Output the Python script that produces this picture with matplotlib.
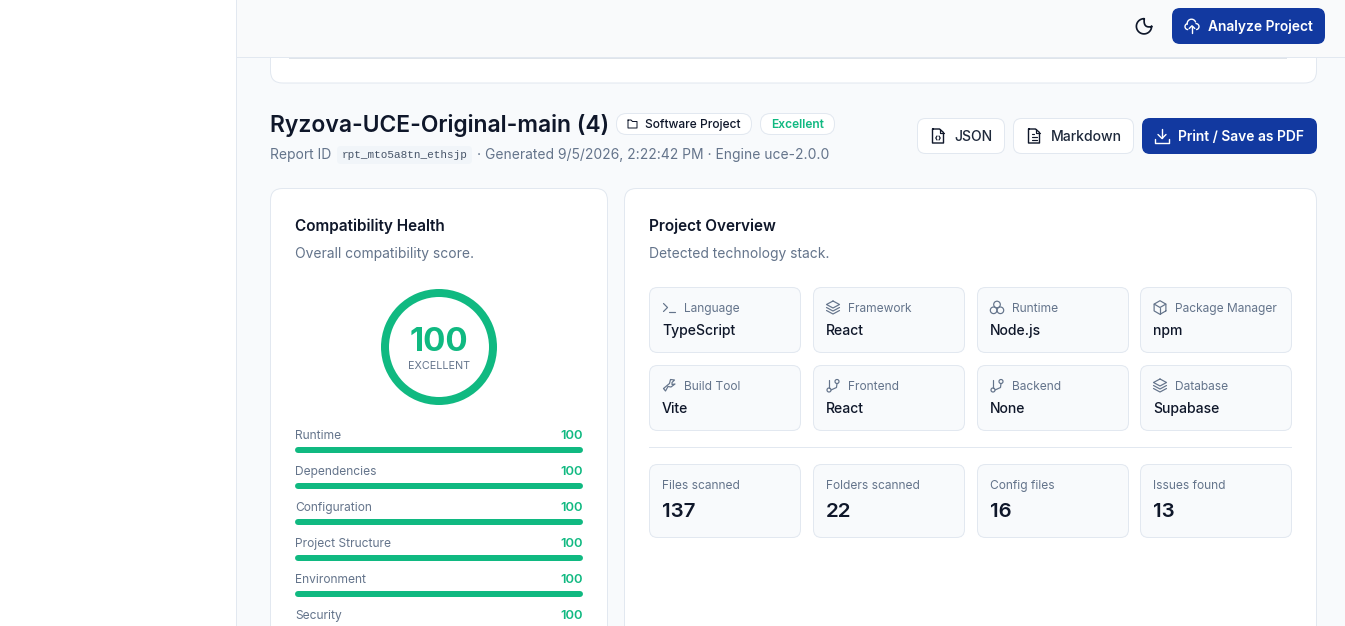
import matplotlib
matplotlib.use("Agg")
import numpy as np
import matplotlib.pyplot as plt
from matplotlib.patches import FancyBboxPatch, Rectangle, Wedge, Circle

plt.rcParams['font.family'] = ['Inter', 'DejaVu Sans']

# ---- data ----
score_total = 100
score_label = "EXCELLENT"
score_categories = ["Runtime", "Dependencies", "Configuration", "Project Structure", "Environment", "Security"]
score_values = [100, 100, 100, 100, 100, 100]
stack_labels = ["Language", "Framework", "Runtime", "Package Manager", "Build Tool", "Frontend", "Backend", "Database"]
stack_values = ["TypeScript", "React", "Node.js", "npm", "Vite", "React", "None", "Supabase"]
stat_labels = ["Files scanned", "Folders scanned", "Config files", "Issues found"]
stat_values = [137, 22, 16, 13]

W, H = 1345, 626
BG = "#f8fafc"; HDR = "#f9fafb"; BORDER = "#e2e8f0"; INK = "#0f172a"; MUTED = "#64748b"
GREEN = "#10b981"; NAVY = "#1239a0"; TILE = "#f8fafc"; ICON = "#64748b"

fig = plt.figure(figsize=(W / 100, H / 100), dpi=100, facecolor=BG)
ax = fig.add_axes([0, 0, 1, 1])
ax.set_xlim(0, W); ax.set_ylim(H, 0); ax.axis("off")
PX = 0.72

def rbox(x0, y0, x1, y1, r, fc, ec=None, lw=1.0, z=2):
    p = FancyBboxPatch((x0 + r, y0 + r), x1 - x0 - 2 * r, y1 - y0 - 2 * r,
                       boxstyle=f"round,pad={r},rounding_size={r}",
                       fc=fc, ec=ec if ec else "none", lw=lw * PX, zorder=z)
    ax.add_patch(p)
    return p

def txt(x, y, s, size, color=INK, weight=400, ha="left", family=None, z=7, ref=None):
    base = y + 0.36 * (ref if ref else size) - 0.5
    return ax.text(x, base, s, fontsize=size * PX, color=color, fontweight=weight, ha=ha, va="baseline",
                   family=family if family else ['Inter', 'DejaVu Sans'], zorder=z)

def ln(xs, ys, c=ICON, lw=1.2, z=6):
    ax.plot(xs, ys, color=c, lw=lw * PX, solid_capstyle="round", solid_joinstyle="round", zorder=z)

def arc(cx, cy, r, a0, a1):
    t = np.radians(np.linspace(a0, a1, 24))
    return cx + r * np.cos(t), cy + r * np.sin(t)

def px_rect(x, y, w, h, c, z):
    ax.add_patch(Rectangle((x, y), w, h, fc=c, ec="none", lw=0, zorder=z))

# ---- icons (centred on cx, cy) ----
def ic_doc(cx, cy, c=INK, kind="lines"):
    ln([cx - 5, cx + 1.5, cx + 5.5, cx + 5.5, cx - 5.5, cx - 5.5, cx - 5],
       [cy - 7, cy - 7, cy - 3.5, cy + 7, cy + 7, cy - 7, cy - 7], c, 1.4)
    ln([cx + 1.5, cx + 1.5, cx + 5.5], [cy - 7, cy - 3.5, cy - 3.5], c, 1.2)
    if kind == "lines":
        ln([cx - 2.5, cx + 2.5], [cy + 0.5, cy + 0.5], c, 1.2)
        ln([cx - 2.5, cx + 2.5], [cy + 3.5, cy + 3.5], c, 1.2)
        ln([cx - 2.5, cx - 0.5], [cy - 2.5, cy - 2.5], c, 1.2)
    else:
        ln([cx - 1, cx - 2.2, cx - 1], [cy, cy + 2, cy + 4], c, 1.2)
        ln([cx + 1, cx + 2.2, cx + 1], [cy, cy + 2, cy + 4], c, 1.2)

def ic_term(cx, cy):
    ln([cx - 5.5, cx - 1.5, cx - 5.5], [cy - 4, cy, cy + 4]); ln([cx, cx + 5.5], [cy + 4.5, cy + 4.5])

def ic_layers(cx, cy):
    ln([cx, cx + 6.5, cx, cx - 6.5, cx], [cy - 6.5, cy - 3, cy + 0.5, cy - 3, cy - 6.5])
    ln([cx - 6.5, cx, cx + 6.5], [cy + 0, cy + 3.5, cy + 0]); ln([cx - 6.5, cx, cx + 6.5], [cy + 3, cy + 6.5, cy + 3])

def ic_atoms(cx, cy):
    for dx, dy in [(0, -3), (-3.4, 2.8), (3.4, 2.8)]:
        ax.add_patch(Circle((cx + dx, cy + dy), 3.3, fc="none", ec=ICON, lw=1.2 * PX, zorder=6))

def ic_box(cx, cy):
    t = np.linspace(0, 2 * np.pi, 7) + np.pi / 6
    ln(cx + 6.8 * np.cos(t), cy + 6.8 * np.sin(t))
    ln([cx - 5.8, cx, cx + 5.8], [cy - 3.4, cy, cy - 3.4]); ln([cx, cx], [cy, cy + 6.8])

def ic_wrench(cx, cy):
    ln([cx - 5.5, cx + 0.5, cx + 1.5, cx + 5.5, cx + 3, cx + 3, cx + 6, cx + 2, cx - 1, cx - 3.5, cx - 5.5],
       [cy + 3, cy - 2, cy - 6, cy - 5.5, cy - 3, cy - 1, cy - 1.5, cy + 1.5, cy + 1, cy + 5.5, cy + 3])

def ic_branch(cx, cy):
    ln([cx - 4, cx - 4], [cy - 6, cy + 2.5])
    ax.add_patch(Circle((cx - 4, cy + 4.5), 2, fc="none", ec=ICON, lw=1.2 * PX, zorder=6))
    ax.add_patch(Circle((cx + 4, cy - 4), 2, fc="none", ec=ICON, lw=1.2 * PX, zorder=6))
    ln([cx + 4, cx + 3.5, cx - 2], [cy - 2, cy + 2, cy + 4.5])

ICONS = [ic_term, ic_layers, ic_atoms, ic_box, ic_wrench, ic_branch, ic_branch, ic_layers]

# ---- page chrome ----
px_rect(0, 0, 236, H, "white", 1)
px_rect(236, 0, 1, H, BORDER, 8)

# clipped upper card
rbox(270.5, 20, 1316.5, 83, 12, "white", BORDER, z=2)
px_rect(289, 58, 998, 1, "#dfe4ea", 3)
px_rect(237, 0, W - 237, 57, HDR, 4)
px_rect(237, 57, W - 237, 1, BORDER, 5)

# header controls: moon
s = np.linspace(0, 1, 20)
p0, c0, p2 = np.array([1151.6, 26.6]), np.array([1143, 28.5]), np.array([1144.3, 18.7])
bx = (1 - s) ** 2 * p0[0] + 2 * s * (1 - s) * c0[0] + s ** 2 * p2[0]
by = (1 - s) ** 2 * p0[1] + 2 * s * (1 - s) * c0[1] + s ** 2 * p2[1]
t_out = np.radians(np.linspace(268, -2, 50))
ox = 1144 + 7.6 * np.cos(t_out); oy = 26.3 + 7.6 * np.sin(t_out)
ln(np.r_[ox, bx, ox[0]], np.r_[oy, by, oy[0]], INK, 1.7)

def cloud(cx, cy):
    for a in [arc(cx - 0.5, cy - 2.5, 4.3, 170, 340), arc(cx - 4, cy + 0.6, 3, 95, 250), arc(cx + 4, cy + 0.6, 3, 270, 440)]:
        ln(a[0], a[1], "white", 1.4, 7)
    ln([cx, cx], [cy + 7, cy], "white", 1.4, 7); ln([cx - 2.8, cx, cx + 2.8], [cy + 2.5, cy - 0.2, cy + 2.5], "white", 1.4, 7)

rbox(1172, 8, 1325, 44, 8, NAVY, z=6)
cloud(1192, 26)
txt(1208, 26, "Analyze Project", 13.8, "white", 600, ref=14)

# title row
txt(270, 123.5, "Ryzova-UCE-Original-main (4)", 22.9, INK, 600, ref=24)
rbox(616.5, 113.5, 751.5, 134.5, 10, "white", BORDER, z=3)
ic_x, ic_y = 632.5, 124
ln([ic_x - 4.5, ic_x - 1.5, ic_x, ic_x + 4.5, ic_x + 4.5, ic_x - 4.5, ic_x - 4.5],
   [ic_y - 4, ic_y - 4, ic_y - 2.5, ic_y - 2.5, ic_y + 4, ic_y + 4, ic_y - 4], INK, 1.0)
txt(645, 124, "Software Project", 12, INK, 500)
rbox(760.5, 113.5, 834.5, 134.5, 10, "white", BORDER, z=3)
txt(771, 124, "Excellent", 12, GREEN, 600)

txt(270, 154, "Report ID", 13.85, MUTED, ref=14)
rbox(337, 146, 472, 164, 4, "#f1f5f9", z=3)
txt(341.5, 155, "rpt_mto5a8tn_ethsjp", 11, "#475569", family=["Liberation Mono", "DejaVu Sans Mono"])
txt(477, 154, "· Generated 9/5/2026, 2:22:42 PM · Engine uce-2.0.0", 13.85, MUTED, ref=14)

# action buttons
rbox(917.5, 118.5, 1004.5, 153.5, 8, "white", BORDER, z=3)
ic_doc(938, 136, INK, "code")
txt(954, 136, "JSON", 14, "#1e293b", 500)
rbox(1013.5, 118.5, 1133.5, 153.5, 8, "white", BORDER, z=3)
ic_doc(1034, 136, INK, "lines")
txt(1050.5, 136, "Markdown", 14, "#1e293b", 500)
rbox(1142, 118, 1317, 154, 8, NAVY, z=3)
dx, dy = 1162, 136
ln([dx, dx], [dy - 7, dy + 2], "white", 1.4); ln([dx - 4, dx, dx + 4], [dy - 1.5, dy + 2.5, dy - 1.5], "white", 1.4)
ln([dx - 7, dx - 7, dx + 7, dx + 7], [dy + 3, dy + 6.5, dy + 6.5, dy + 3], "white", 1.4)
txt(1178, 136, "Print / Save as PDF", 13.85, "white", 600, ref=14)

# ---- health card (runs off the bottom) ----
rbox(270.5, 188.5, 607.5, 680, 12, "white", BORDER, z=2)
txt(295, 225.5, "Compatibility Health", 15.3, INK, 600, ref=16)
txt(295, 253, "Overall compatibility score.", 13.85, MUTED, ref=14)
cx, cy, R = 439, 347, 58
ax.add_patch(Wedge((cx, cy), R, 90 - 360 * score_total / 100, 90, width=8, fc=GREEN, ec="none", zorder=4))
txt(cx, 341, str(score_total), 33, GREEN, 700, ha="center", ref=30)
txt(cx, 365.5, score_label, 10.8, MUTED, ha="center", ref=10)
for i, (name, val) in enumerate(zip(score_categories, score_values)):
    y = 435 + 36 * i
    txt(295, y, name, 12, MUTED)
    txt(583, y, str(val), 13, GREEN, 600, ha="right", ref=12)
    if y + 15 < H:
        ax.plot([298, 295 + 288 * val / 100 - 3], [y + 15, y + 15], color=GREEN, lw=6 * PX,
                solid_capstyle="round", zorder=4)

# ---- overview card ----
rbox(624.5, 188.5, 1316.5, 680, 12, "white", BORDER, z=2)
txt(649, 225.5, "Project Overview", 15.3, INK, 600, ref=16)
txt(649, 253, "Detected technology stack.", 13.85, MUTED, ref=14)
col_x = [649.5, 813.5, 977.5, 1140.5]
col_w = 151
for i, (lab, val) in enumerate(zip(stack_labels, stack_values)):
    x = col_x[i % 4]; y = 287.5 + 78 * (i // 4)
    rbox(x, y, x + col_w, y + 65, 8, TILE, BORDER, z=3)
    ICONS[i](x + 19.5, y + 20)
    txt(x + 34.5, y + 20.5, lab, 12, MUTED)
    txt(x + 12.5, y + 42.5, val, 14, "#0f172a", 500)
px_rect(649, 447, 643, 1, BORDER, 3)
for i, (lab, val) in enumerate(zip(stat_labels, stat_values)):
    x = col_x[i]
    rbox(x, 464.5, x + col_w, 537.5, 8, TILE, BORDER, z=3)
    txt(x + 12.5, 485.5, lab, 12, MUTED)
    txt(x + 12.5, 510.5, str(val), 20.5, "#0f172a", 600, ref=20)

fig.savefig("out.png", dpi=100, facecolor=BG)
